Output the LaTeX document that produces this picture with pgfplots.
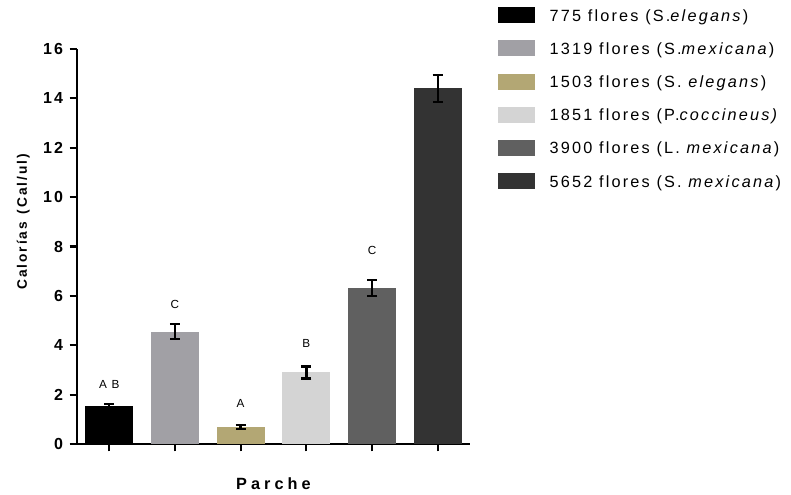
\documentclass[border=0pt]{standalone}
\usepackage{pgfplots}
\pgfplotsset{compat=1.18}
\usepackage{fontspec}
\setmainfont[LetterSpace=12]{Liberation Sans}
\definecolor{c1}{HTML}{000000}
\definecolor{c2}{HTML}{A1A0A5}
\definecolor{c3}{HTML}{B3A774}
\definecolor{c4}{HTML}{D4D4D4}
\definecolor{c5}{HTML}{606060}
\definecolor{c6}{HTML}{333333}
\begin{document}
\begin{tikzpicture}
\path[use as bounding box] (-57.75pt,-38.25pt) rectangle (535.5pt,333pt);
\begin{axis}[
  scale only axis,
  width=294.75pt, height=296.25pt,
  xmin=-0.49, xmax=5.49,
  ymin=0, ymax=16,
  ytick={0,2,...,16},
  xtick={0,1,2,3,4,5},
  xticklabels={},
  axis lines*=left,
  axis line style={line width=1.6pt},
  tick style={line width=1.6pt, black},
  tick align=outside,
  major tick length=5.5pt,
  /pgf/number format/assume math mode=true,
  yticklabel style={font=\fontsize{12}{14}\selectfont\bfseries, xshift=-1.5pt},
  ylabel={Calorías\hspace{1.5pt} (Cal/ul)},
  ylabel style={font=\fontsize{10.3}{13}\selectfont\bfseries\addfontfeature{LetterSpace=14}, at={(axis description cs:-0.137,0.562)}, anchor=center, rotate=0},
  xlabel={Parche},
  xlabel style={font=\fontsize{12.2}{14}\selectfont\bfseries\addfontfeature{LetterSpace=25}, at={(axis description cs:0.5,0)}, anchor=center, yshift=-30pt},
  ybar, bar width=0.73, bar shift=0pt,
  error bars/error bar style={line width=1.8pt, black},
  error bars/error mark options={rotate=90, mark size=3.8pt, line width=1.8pt, black},
  legend style={at={(axis description cs:1.071,1.106)}, anchor=north west, draw=none, fill=none,
    font=\fontsize{12.2}{14}\selectfont\addfontfeature{LetterSpace=13.5}, row sep=12.9pt, inner sep=0pt, outer sep=0pt,
    /tikz/every even column/.append style={column sep=0pt}},
  legend cell align=left,
  legend image code/.code={\fill[#1] (0pt,-6pt) rectangle (27.75pt,6pt);},
  legend style={nodes={inner sep=0pt, text depth=0pt}},
]
\addplot[fill=c1, draw=none, error bars/.cd, y dir=both, y explicit] coordinates {(0,1.55) +- (0,0.08)};
\addlegendentry{\hspace{11pt}775 flores (S.\textit{elegans})}
\addplot[fill=c2, draw=none, error bars/.cd, y dir=both, y explicit] coordinates {(1,4.55) +- (0,0.3)};
\addlegendentry{\hspace{11pt}1319 flores (S.\textit{mexicana})}
\addplot[fill=c3, draw=none, error bars/.cd, y dir=both, y explicit] coordinates {(2,0.68) +- (0,0.08)};
\addlegendentry{\hspace{11pt}1503 flores (S. \textit{elegans})}
\addplot[fill=c4, draw=none, error bars/.cd, y dir=both, y explicit] coordinates {(3,2.9) +- (0,0.24)};
\addlegendentry{\hspace{11pt}1851 flores (P.\textit{coccineus)}}
\addplot[fill=c5, draw=none, error bars/.cd, y dir=both, y explicit] coordinates {(4,6.32) +- (0,0.33)};
\addlegendentry{\hspace{11pt}3900 flores (L. \textit{mexicana})}
\addplot[fill=c6, draw=none, error bars/.cd, y dir=both, y explicit] coordinates {(5,14.4) +- (0,0.55)};
\addlegendentry{\hspace{11pt}5652 flores (S. \textit{mexicana})}
\addplot[forget plot, draw=none, fill=none, ybar=0pt, mark=none,
  nodes near coords, point meta=explicit symbolic,
  nodes near coords style={anchor=center, font=\fontsize{8.8}{10}\selectfont, black}]
  coordinates {(0,2.43) [A B] (1,5.67) [C] (2,1.66) [A] (3,4.09) [B] (4,7.82) [C]};
\end{axis}
\end{tikzpicture}
\end{document}
